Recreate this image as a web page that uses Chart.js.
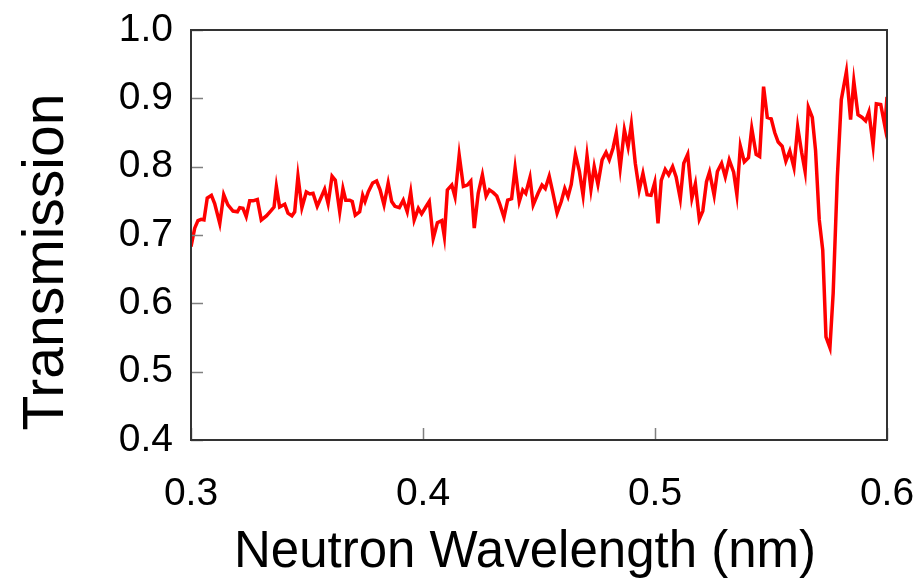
<!DOCTYPE html>
<html>
<head>
<meta charset="utf-8">
<script src="https://cdn.jsdelivr.net/npm/chart.js@4.4.0/dist/chart.umd.min.js"></script>
<style>
    html, body { margin: 0; padding: 0; background: #ffffff; }
    #wrap { width: 920px; height: 579px; }
</style>
</head>
<body>
<div id="wrap"><canvas id="transChart" width="920" height="579"></canvas></div>
<script>
// Neutron wavelength (nm)
const wavelength = [
    0.3000, 0.3016, 0.3030, 0.3044, 0.3056, 0.3070, 0.3088, 0.3102, 0.3124, 0.3141,
    0.3159, 0.3181, 0.3200, 0.3210, 0.3224, 0.3238, 0.3253, 0.3267, 0.3286, 0.3303,
    0.3325, 0.3346, 0.3358, 0.3368, 0.3382, 0.3404, 0.3418, 0.3435, 0.3447, 0.3461,
    0.3478, 0.3497, 0.3512, 0.3526, 0.3544, 0.3562, 0.3576, 0.3591, 0.3608, 0.3622,
    0.3641, 0.3655, 0.3667, 0.3684, 0.3695, 0.3708, 0.3727, 0.3740, 0.3750, 0.3764,
    0.3783, 0.3800, 0.3815, 0.3832, 0.3850, 0.3865, 0.3879, 0.3898, 0.3915, 0.3932,
    0.3947, 0.3962, 0.3980, 0.3994, 0.4012, 0.4027, 0.4044, 0.4062, 0.4081, 0.4092,
    0.4105, 0.4124, 0.4138, 0.4156, 0.4174, 0.4191, 0.4206, 0.4221, 0.4238, 0.4256,
    0.4272, 0.4286, 0.4303, 0.4318, 0.4332, 0.4349, 0.4365, 0.4382, 0.4397, 0.4415,
    0.4430, 0.4443, 0.4461, 0.4475, 0.4496, 0.4513, 0.4527, 0.4544, 0.4559, 0.4578,
    0.4596, 0.4611, 0.4625, 0.4639, 0.4657, 0.4674, 0.4690, 0.4707, 0.4724, 0.4738,
    0.4754, 0.4772, 0.4789, 0.4803, 0.4819, 0.4833, 0.4850, 0.4868, 0.4884, 0.4898,
    0.4915, 0.4932, 0.4948, 0.4966, 0.4983, 0.4999, 0.5013, 0.5027, 0.5044, 0.5059,
    0.5076, 0.5091, 0.5109, 0.5124, 0.5141, 0.5159, 0.5174, 0.5191, 0.5206, 0.5222,
    0.5235, 0.5255, 0.5269, 0.5287, 0.5303, 0.5320, 0.5339, 0.5353, 0.5368, 0.5385,
    0.5403, 0.5417, 0.5436, 0.5451, 0.5468, 0.5484, 0.5501, 0.5516, 0.5531, 0.5548,
    0.5564, 0.5581, 0.5599, 0.5615, 0.5632, 0.5647, 0.5661, 0.5678, 0.5692, 0.5708,
    0.5723, 0.5737, 0.5754, 0.5768, 0.5786, 0.5803, 0.5825, 0.5843, 0.5857, 0.5875,
    0.5893, 0.5908, 0.5922, 0.5940, 0.5954, 0.5973, 0.5991, 0.6000
];

// Transmission values
const transmission = [
    0.683, 0.710, 0.721, 0.723, 0.722, 0.754, 0.758, 0.746, 0.717, 0.759,
    0.744, 0.735, 0.734, 0.740, 0.739, 0.727, 0.750, 0.750, 0.752, 0.722,
    0.728, 0.736, 0.741, 0.771, 0.741, 0.745, 0.732, 0.728, 0.734, 0.786,
    0.740, 0.763, 0.760, 0.761, 0.742, 0.756, 0.767, 0.746, 0.786, 0.780,
    0.734, 0.768, 0.751, 0.751, 0.749, 0.729, 0.734, 0.758, 0.749, 0.763,
    0.776, 0.779, 0.766, 0.744, 0.776, 0.749, 0.742, 0.740, 0.751, 0.734,
    0.763, 0.722, 0.739, 0.731, 0.741, 0.749, 0.695, 0.718, 0.721, 0.698,
    0.766, 0.773, 0.756, 0.817, 0.771, 0.773, 0.779, 0.710, 0.761, 0.788,
    0.757, 0.766, 0.762, 0.757, 0.744, 0.726, 0.751, 0.753, 0.798, 0.749,
    0.766, 0.761, 0.784, 0.744, 0.761, 0.773, 0.768, 0.786, 0.763, 0.732,
    0.749, 0.768, 0.756, 0.774, 0.818, 0.793, 0.758, 0.816, 0.767, 0.800,
    0.774, 0.810, 0.821, 0.810, 0.827, 0.849, 0.798, 0.854, 0.829, 0.862,
    0.805, 0.766, 0.790, 0.759, 0.758, 0.777, 0.717, 0.780, 0.796, 0.788,
    0.800, 0.785, 0.753, 0.805, 0.818, 0.754, 0.775, 0.723, 0.735, 0.778,
    0.792, 0.758, 0.793, 0.805, 0.785, 0.810, 0.792, 0.759, 0.830, 0.807,
    0.813, 0.856, 0.818, 0.815, 0.917, 0.872, 0.870, 0.850, 0.836, 0.830,
    0.808, 0.823, 0.799, 0.858, 0.821, 0.793, 0.887, 0.872, 0.824, 0.722,
    0.678, 0.551, 0.535, 0.615, 0.785, 0.898, 0.939, 0.869, 0.925, 0.876,
    0.872, 0.867, 0.880, 0.831, 0.892, 0.891, 0.859, 0.902
];

const xTicks = [0.3, 0.4, 0.5, 0.6];
const yTicks = [0.4, 0.5, 0.6, 0.7, 0.8, 0.9, 1.0];
const xTitle = 'Neutron Wavelength (nm)';
const yTitle = 'Transmission';

const FONT = "'Liberation Sans', Arial, sans-serif";

// Inward tick marks, closed frame and the two axis titles
const frameTicks = {
    id: 'frameTicks',
    afterDraw(chart) {
        const ctx = chart.ctx;
        const area = chart.chartArea;
        const xs = chart.scales.x;
        const ys = chart.scales.y;
        ctx.save();
        ctx.strokeStyle = '#808080';
        ctx.lineWidth = 1.5;
        ctx.beginPath();
        yTicks.forEach(v => {
            const py = Math.round(ys.getPixelForValue(v)) + 0.5;
            ctx.moveTo(area.left, py);
            ctx.lineTo(area.left + 12, py);
        });
        xTicks.forEach(v => {
            const px = Math.round(xs.getPixelForValue(v)) + 0.5;
            ctx.moveTo(px, area.bottom);
            ctx.lineTo(px, area.bottom - 12);
        });
        ctx.stroke();
        ctx.strokeStyle = '#333333';
        ctx.lineWidth = 2;
        ctx.strokeRect(area.left, area.top, area.right - area.left, area.bottom - area.top);

        // titles (the reference sets them a little off the plot centre)
        ctx.fillStyle = '#000000';
        ctx.textAlign = 'center';
        ctx.textBaseline = 'middle';
        ctx.font = '51px ' + FONT;
        ctx.fillText(xTitle, (area.left + area.right) / 2 - 14, chart.height - 26);
        ctx.translate(47, (area.top + area.bottom) / 2 + 27);
        ctx.rotate(-Math.PI / 2);
        ctx.font = '57px ' + FONT;
        ctx.fillText(yTitle, 0, 0);
        ctx.restore();
    }
};

// keep the plot box fixed: no extra room for label overhang
function fixX(scale) {
    scale.height = 139;
    scale.paddingLeft = 0;
    scale.paddingRight = 0;
}
function fixY(scale) {
    scale.width = 191;
    scale.paddingTop = 0;
    scale.paddingBottom = 0;
}

const ctx = document.getElementById('transChart').getContext('2d');

new Chart(ctx, {
    type: 'line',
    data: {
        datasets: [{
            data: wavelength.map((w, i) => ({ x: w, y: transmission[i] })),
            borderColor: '#ff0000',
            borderWidth: 3.5,
            pointRadius: 0,
            tension: 0,
            fill: false
        }]
    },
    options: {
        responsive: false,
        animation: false,
        layout: { padding: { top: 30, right: 33, left: 0, bottom: 0 } },
        plugins: {
            legend: { display: false },
            tooltip: { enabled: false }
        },
        scales: {
            x: {
                type: 'linear',
                min: 0.3,
                max: 0.6,
                afterBuildTicks: scale => { scale.ticks = xTicks.map(v => ({ value: v })); },
                afterFit: fixX,
                grid: { display: false, drawTicks: false },
                border: { display: false },
                ticks: {
                    color: '#000000',
                    font: { family: FONT, size: 39 },
                    padding: 31,
                    maxRotation: 0,
                    callback: v => v.toFixed(1)
                }
            },
            y: {
                type: 'linear',
                min: 0.4,
                max: 1.0,
                afterBuildTicks: scale => { scale.ticks = yTicks.map(v => ({ value: v })); },
                afterFit: fixY,
                grid: { display: false, drawTicks: false },
                border: { display: false },
                ticks: {
                    color: '#000000',
                    font: { family: FONT, size: 39 },
                    padding: 18,
                    callback: v => v.toFixed(1)
                }
            }
        }
    },
    plugins: [frameTicks]
});
</script>
</body>
</html>
